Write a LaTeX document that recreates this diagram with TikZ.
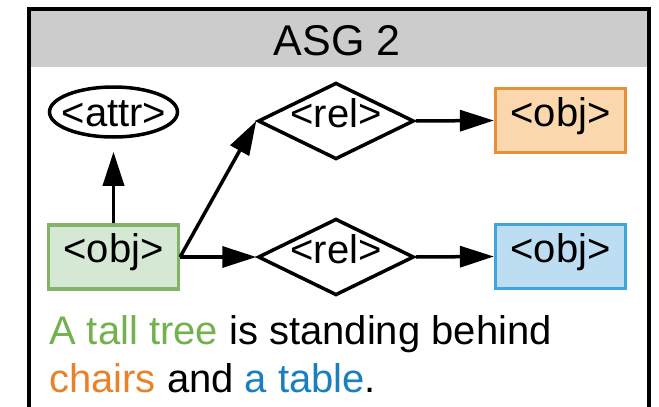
\documentclass[tikz,border=0pt]{standalone}
\usepackage{fontspec}
\setmainfont{Liberation Sans}
\usetikzlibrary{shapes.geometric,arrows.meta}
\definecolor{hdr}{HTML}{CCCCCC}
\definecolor{gfill}{HTML}{D5E8D4}
\definecolor{gline}{HTML}{82B366}
\definecolor{ofill}{HTML}{FAD7AC}
\definecolor{oline}{HTML}{E6913A}
\definecolor{bfill}{HTML}{BCDDF2}
\definecolor{bline}{HTML}{3EA6DC}
\definecolor{tgreen}{HTML}{72B14D}
\definecolor{torange}{HTML}{E8822A}
\definecolor{tblue}{HTML}{1A7FC1}
\begin{document}
\begin{tikzpicture}[x=1pt,y=-1pt,
  nodefont/.style={font=\fontsize{40}{46}\selectfont},
  objbox/.style={draw, rectangle, line width=3.2pt, minimum width=130pt, minimum height=64pt,
    inner sep=0pt, text height=20pt, text depth=9pt, nodefont},
  relbox/.style={draw, diamond, shape aspect=2, line width=3.5pt, minimum width=156pt,
    minimum height=76pt, inner sep=0pt, text height=22pt, text depth=9pt, nodefont},
  attrbox/.style={draw, ellipse, line width=3.5pt, minimum width=128pt, minimum height=50pt, inner sep=0pt},
  arr/.style={line width=3.5pt, -{Triangle[length=34pt,width=21pt]}},
  caption/.style={anchor=base west, inner sep=0pt, font=\fontsize{40}{48}\selectfont}]
\useasboundingbox (0,0) rectangle (659,407);
% frame and header
\fill[hdr] (28,9) rectangle (649,67);
\draw[line width=4pt] (28.7,420) -- (28.7,8.7) -- (649,8.7) -- (649,420);
\node[anchor=base, inner sep=0pt, font=\fontsize{43}{50}\selectfont] (title) at (337,55) {ASG 2};
% nodes
\node[attrbox] (attr) at (113.5,112) {};
\node[anchor=base, inner sep=0pt, nodefont] (attrtxt) at (114,126) {<attr>};
\node[objbox, fill=gfill, draw=gline] (g) at (113.5,257) {<obj>};
\node[relbox] (r1) at (336,121) {<rel>};
\node[relbox] (r2) at (336,257) {<rel>};
\node[objbox, fill=ofill, draw=oline] (o1) at (560.5,120.5) {<obj>};
\node[objbox, fill=bfill, draw=bline] (o2) at (560.5,256.5) {<obj>};
% connectors
\draw[arr, shorten >=13pt] (g.north) -- (attr.south);
\draw[arr] (g.east) -- (r1.west);
\draw[arr] (g.east) -- (r2.west);
\draw[arr] (r1.east) -- (o1.west);
\draw[arr] (r2.east) -- (o2.west);
% caption
\node[caption] (line1) at (49,344) {\textcolor{tgreen}{A tall tree} is standing behind};
\node[caption] (line2) at (49,392) {\textcolor{torange}{chairs} and \textcolor{tblue}{a table}.};
\end{tikzpicture}
\end{document}
